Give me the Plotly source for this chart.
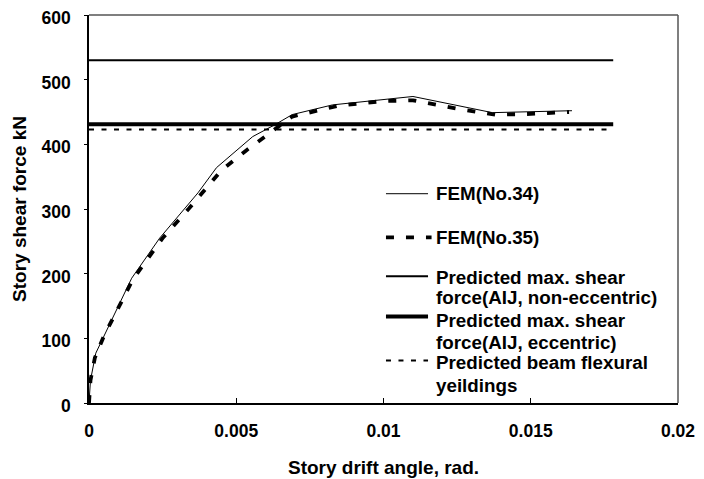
import plotly.graph_objects as go

# FEM(No.34)
x34 = [0, 0.00005, 0.00023, 0.00054, 0.00145, 0.0024, 0.0037, 0.00433, 0.00556, 0.0063, 0.0069, 0.00827, 0.0099, 0.011, 0.0137, 0.0164]
y34 = [0, 35, 77, 106, 193, 255, 325, 364, 412, 430, 446, 461, 469, 474, 449, 452]

# FEM(No.35)
x35 = [0, 0.00005, 0.0002, 0.0005, 0.0015, 0.0025, 0.0034, 0.0045, 0.00535, 0.0062, 0.0069, 0.0085, 0.01, 0.011, 0.0125, 0.0138, 0.015, 0.0163]
y35 = [0, 35, 70, 103, 192, 255, 301, 360, 391, 419, 443, 460, 467, 468, 455, 446, 447, 450]

# Predicted levels (x-span, value)
x_pred = [0, 0.0178]
v_non_ecc = 530
v_ecc = 431
v_beam = 423

legend_lines = [
    ["FEM(No.34)"],
    ["FEM(No.35)"],
    ["Predicted max. shear", "force(AIJ, non-eccentric)"],
    ["Predicted max. shear", "force(AIJ, eccentric)"],
    ["Predicted beam flexural", "yeildings"],
]

x_ticks = [0, 0.005, 0.01, 0.015, 0.02]
x_tick_text = ["0", "0.005", "0.01", "0.015", "0.02"]
y_ticks = [0, 100, 200, 300, 400, 500, 600]

FAM = "Liberation Sans, Arial, sans-serif"
styles = [
    dict(color="black", width=1),
    dict(color="black", width=3.8, dash="8px,12px"),
    dict(color="black", width=2),
    dict(color="black", width=4),
    dict(color="black", width=2, dash="5px,7.5px"),
]

fig = go.Figure()
fig.add_trace(go.Scatter(x=x34, y=y34, mode="lines", name=legend_lines[0][0], line=styles[0]))
fig.add_trace(go.Scatter(x=x35, y=y35, mode="lines", name=legend_lines[1][0], line=styles[1]))
fig.add_trace(go.Scatter(x=x_pred, y=[v_non_ecc] * 2, mode="lines", name=" ".join(legend_lines[2]), line=styles[2]))
fig.add_trace(go.Scatter(x=x_pred, y=[v_ecc] * 2, mode="lines", name=" ".join(legend_lines[3]), line=styles[3]))
fig.add_trace(go.Scatter(x=x_pred, y=[v_beam] * 2, mode="lines", name=" ".join(legend_lines[4]), line=styles[4]))

# custom legend (paper coordinates)
sample_x0, sample_x1 = 0.5042, 0.5756
text_x = 0.5857
sample_y = [0.5394, 0.4271, 0.3265, 0.2232, 0.1097]
text_y = [[0.5394], [0.4271], [0.3239, 0.2710], [0.2129, 0.1561], [0.1045, 0.0452]]
frame = dict(color="#555555", width=1.5)
shapes = [
    dict(type="line", xref="paper", yref="paper", x0=0, y0=1, x1=1, y1=1, line=frame, layer="above"),
    dict(type="line", xref="paper", yref="paper", x0=1, y0=0, x1=1, y1=1, line=frame, layer="above"),
]
annotations = []
for i, lines in enumerate(legend_lines):
    st = dict(styles[i])
    shapes.append(dict(type="line", xref="paper", yref="paper",
                       x0=sample_x0, x1=sample_x1 + (0.006 if i == 1 else 0),
                       y0=sample_y[i], y1=sample_y[i], line=st))
    for j, t in enumerate(lines):
        annotations.append(dict(text=t, xref="paper", yref="paper", x=text_x, y=text_y[i][j],
                                xanchor="left", yanchor="middle", showarrow=False,
                                font=dict(family=FAM, size=18.8, color="black", weight="bold")))

tickfont = dict(family=FAM, size=17.5, color="black", weight="bold")
titlefont = dict(family=FAM, size=19, color="black", weight="bold")

# page body adds an 8px offset; size/margins compensate so the plot area lands at x 89..678, y 15..403
fig.update_layout(
    width=696, height=471,
    margin=dict(l=81, r=26, t=7, b=76),
    paper_bgcolor="white", plot_bgcolor="white",
    showlegend=False,
    xaxis=dict(range=[0, 0.02], tickvals=x_ticks, ticktext=x_tick_text,
               showgrid=False, zeroline=False, showline=True, linecolor="black", linewidth=1.5,
               ticks="inside", ticklen=5, tickcolor="black", automargin=False,
               ticklabelstandoff=11, ticklabeloverflow="allow",
               title=dict(text="Story drift angle, rad.", font=titlefont, standoff=21),
               tickfont=tickfont),
    yaxis=dict(range=[0, 600], tickvals=y_ticks,
               showgrid=False, zeroline=False, showline=True, linecolor="black", linewidth=1.5,
               ticks="outside", ticklen=3, tickcolor="black", automargin=False,
               ticklabelstandoff=10, ticklabeloverflow="allow", ticklabelshift=3,
               title=dict(text="Story shear force kN", font=titlefont, standoff=10),
               tickfont=tickfont),
    shapes=shapes,
    annotations=annotations,
)

fig.write_html("out.html")
